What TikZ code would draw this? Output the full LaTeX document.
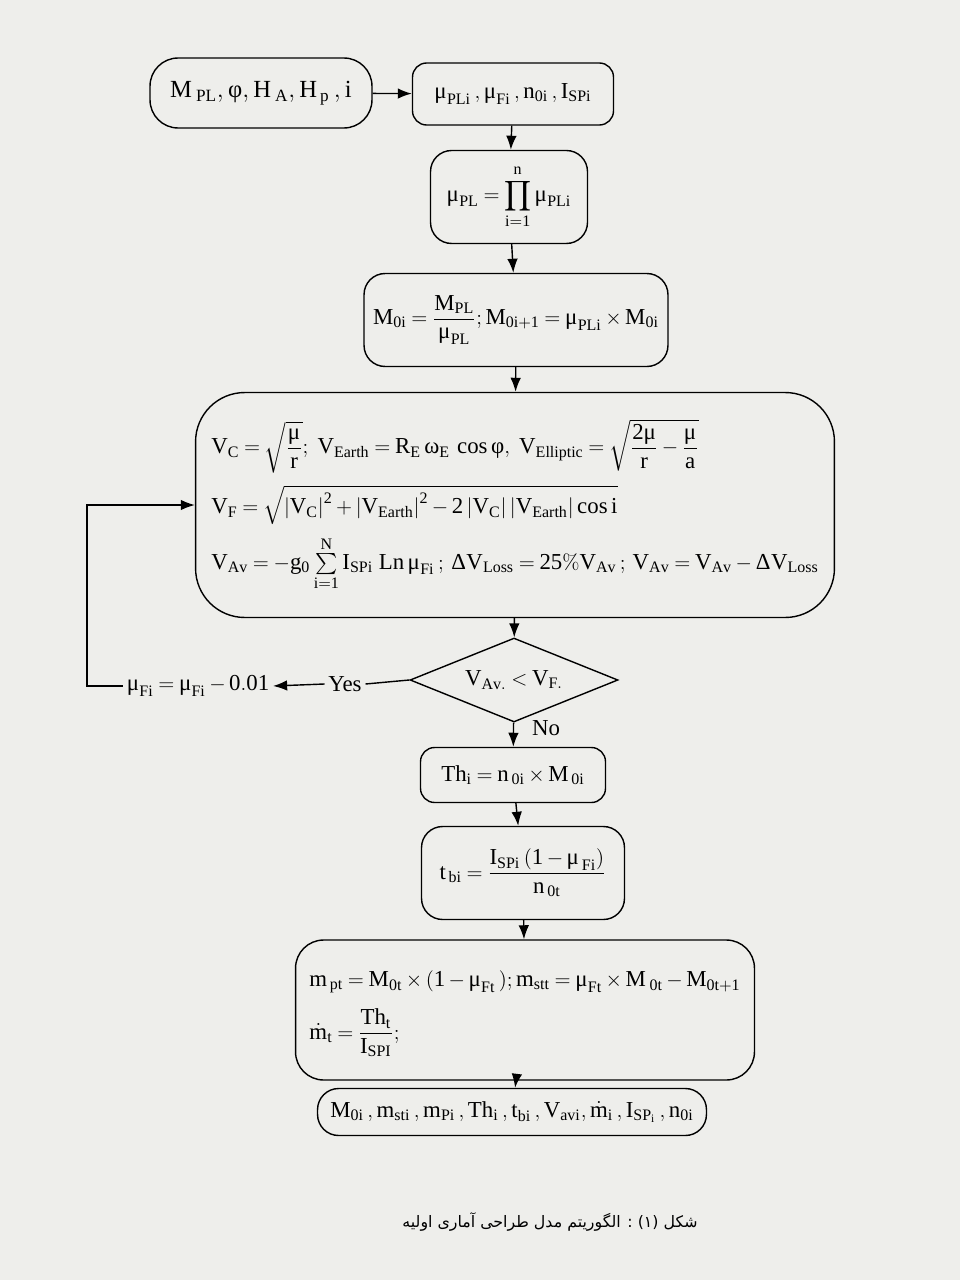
\documentclass[tikz,border=0pt]{standalone}
\usepackage{amsmath}
\usepackage{mathspec}
\usetikzlibrary{shapes.geometric,arrows.meta}
\setmainfont{Liberation Serif}
\setmathsfont(Digits,Latin,Greek)[Uppercase=Regular,Lowercase=Regular]{Liberation Serif}
\setmathrm{Liberation Serif}
\newfontfamily\arabicfont[Script=Arabic]{DejaVu Sans}
\TeXXeTstate=1
\definecolor{paper}{RGB}{238,238,235}
\thickmuskip=4mu plus 1mu
\medmuskip=3mu plus 1mu

\tikzset{
  box/.style={draw, line width=.8pt, rounded corners=8pt, inner sep=3pt,
    font=\fontsize{13}{15}\selectfont},
  pill/.style={box, rounded corners=16pt},
  test/.style={draw, line width=.8pt, diamond, aspect=2.5, inner sep=0pt,
    font=\fontsize{13}{15}\selectfont},
  lbl/.style={font=\fontsize{13}{15}\selectfont, inner sep=2pt},
  flow/.style={line width=.8pt, -{Latex[length=8pt,width=6pt]}}
}

\begin{document}
\begin{tikzpicture}
[x=.02cm,y=-.02cm]
\fill[paper] (0,0) rectangle (960,1280);
\useasboundingbox (0,0) rectangle (960,1280);

\node[pill, minimum width=4.44cm, minimum height=1.4cm, font=\fontsize{14}{16}\selectfont] (in) at (261,93)
  {$M_{\;PL}, \phi, H_{\;A}, H_{\,p}\,, i$};
\node[box, minimum width=4.02cm, minimum height=1.24cm] (stage) at (513,94)
  {$\mu_{PLi}\,, \mu_{Fi}\,, n_{0i}\,, I_{SPi}$};
\node[box, rounded corners=12pt, minimum width=3.14cm, minimum height=1.86cm] (prod) at (509,197)
  {$\mu_{PL} = \displaystyle\prod_{i=1}^{n}\mu_{PLi}$};
\node[box, rounded corners=12pt, minimum width=6.08cm, minimum height=1.86cm] (mass) at (516,320)
  {$M_{0i} = \dfrac{M_{PL}}{\mu_{PL}}; M_{0i+1} = \mu_{PLi}\times M_{0i}$};
\node[box, rounded corners=28pt, minimum width=12.78cm, minimum height=4.5cm,
  align=left] (vel) at (515,505)
  {$V_C = \sqrt{\dfrac{\mu}{r}};\ V_{Earth} = R_E\,\omega_E\,\cos\phi,\ V_{Elliptic} = \sqrt{\dfrac{2\mu}{r}-\dfrac{\mu}{a}}$\\[6pt]
   $V_F = \sqrt{\left|V_C\right|^2 + \left|V_{Earth}\right|^2 - 2\left|V_C\right|\left|V_{Earth}\right|\cos i}$\\[6pt]
   $V_{Av} = -g_0\sum\limits_{i=1}^{N} I_{SPi}\ Ln\,\mu_{Fi}\,;\,\Delta V_{Loss} = 25\%V_{Av}\,;\,V_{Av} = V_{Av} - \Delta V_{Loss}$};

\node[test, minimum width=4.16cm, minimum height=1.68cm] (dia) at (514,680)
  {$V_{Av.} < V_{F.}$};
\node[lbl] (yes) at (345,684) {Yes};
\node[lbl] (no) at (546,728) {No};
\node[lbl] (dec) at (198,686) {$\mu_{Fi} = \mu_{Fi} - 0.01$};
\coordinate (back) at (87,686);

\node[box, minimum width=3.7cm, minimum height=1.1cm] (thr) at (513,775)
  {$Th_i = n_{\,0i}\times M_{\,0i}$};
\node[box, rounded corners=12pt, minimum width=4.06cm, minimum height=1.86cm] (burn) at (523,873)
  {$t_{\,bi} = \dfrac{I_{SPi}\,(1-\mu_{\,Fi})}{n_{\,0t}}$};
\node[box, rounded corners=16pt, minimum width=9.18cm, minimum height=2.8cm,
  align=left] (mflow) at (525,1010)
  {\strut\\[-12pt]
   $m_{\,pt} = M_{0t}\times(1-\mu_{Ft}\,); m_{stt} = \mu_{Ft}\times M_{\;0t} - M_{0t+1}$\\[8pt]
   $\dot m_t = \dfrac{Th_t}{I_{SPI}};$};
\node[pill, rounded corners=12pt, minimum width=7.78cm, minimum height=.94cm] (out) at (512,1112)
  {$M_{0i}\,, m_{sti}\,, m_{Pi}\,, Th_i\,, t_{bi}\,, V_{avi}, \dot m_i\,, I_{SP_i}\,, n_{0i}$};

\node[font=\arabicfont\fontsize{9}{12}\selectfont] (cap) at (550,1222)
  {\beginR شکل (۱) : الگوریتم مدل طراحی آماری اولیه\endR};

\foreach \from/\to in {in/stage,stage/prod,prod/mass,mass/vel,vel/dia,dia/thr,thr/burn,burn/mflow,mflow/out}
\draw[flow] (\from) -- (\to);

\draw[line width=.8pt] (dia.west) -- (yes.east);
\draw[flow] (yes.west) -- (dec.east);
\draw[flow] (dec.west) -- (back) |- (vel.west);
\end{tikzpicture}
\end{document}
